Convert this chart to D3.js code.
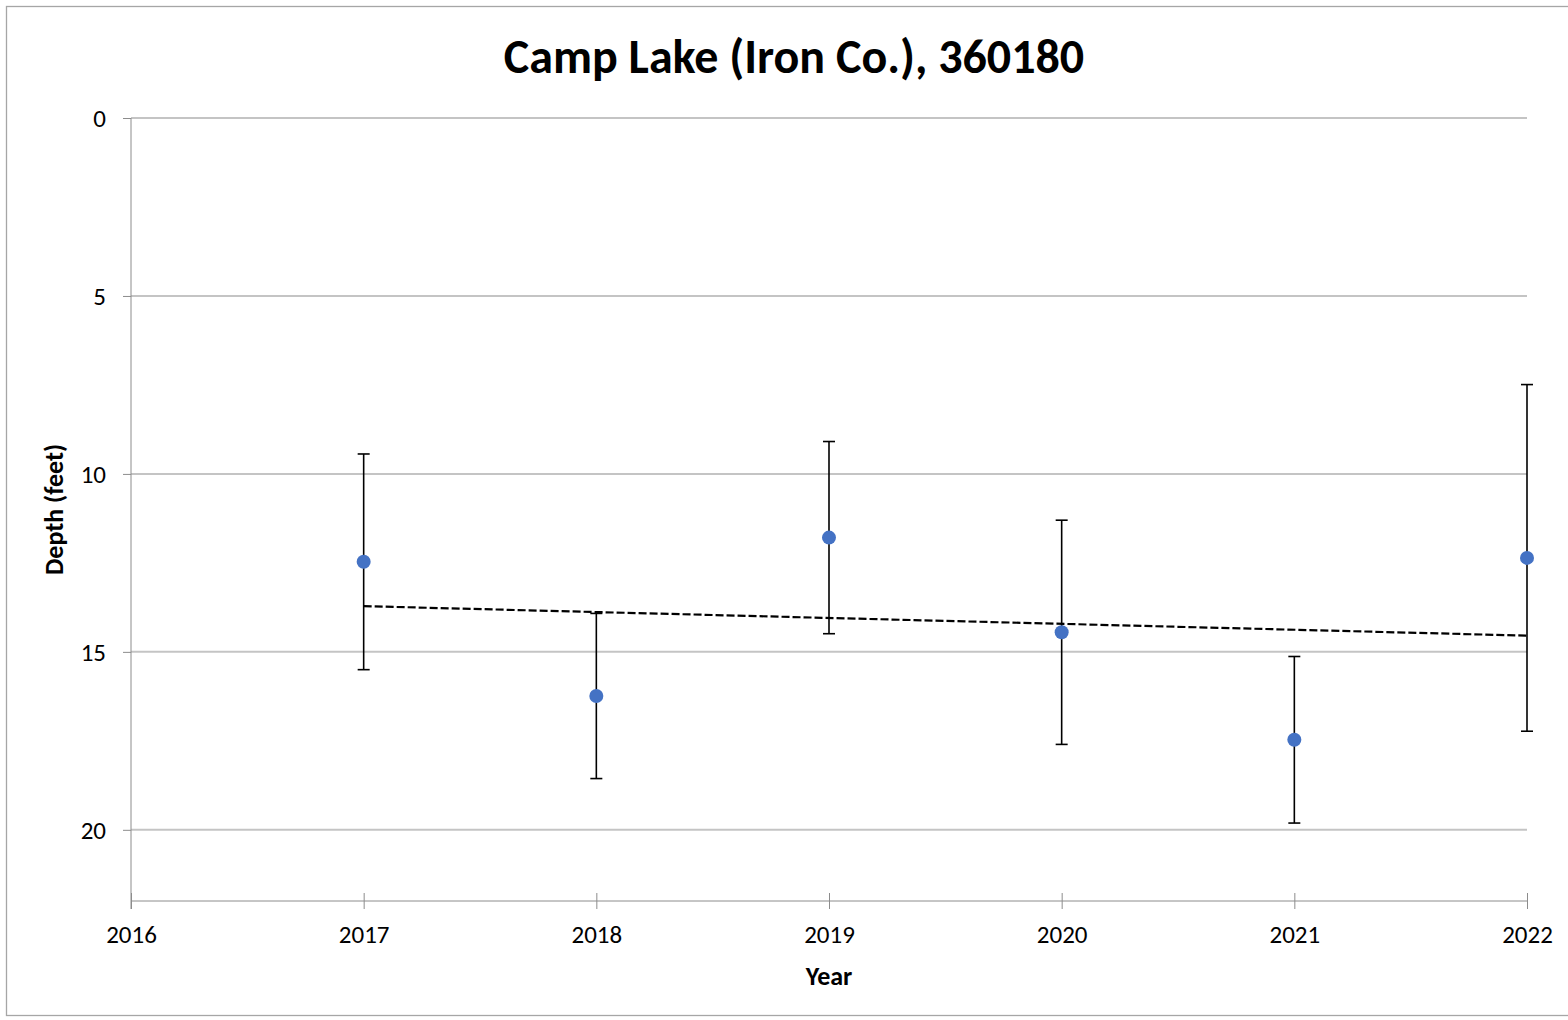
<!DOCTYPE html>
<html>
<head>
<meta charset="utf-8">
<script src="https://cdn.jsdelivr.net/npm/d3@7"></script>
<style>
  body { margin: 0; background: #fff; }
  text { font-family: Carlito, Calibri, Lato, "Open Sans", sans-serif; fill: #000; }
</style>
</head>
<body>
<svg id="chart" width="1568" height="1020"></svg>
<script>
// data
const years = [2017, 2018, 2019, 2020, 2021, 2022];
const depthMean = [12.47, 16.24, 11.79, 14.45, 17.47, 12.36];
const depthErr = [3.03, 2.32, 2.70, 3.15, 2.34, 4.87];
const xTicks = [2016, 2017, 2018, 2019, 2020, 2021, 2022];
const yTicks = [0, 5, 10, 15, 20];

const svg = d3.select("#chart");
const margin = {left: 131, right: 41, top: 118, bottom: 119};
const W = 1568, H = 1020;

// outer chart border
svg.append("rect")
   .attr("x", 6.5).attr("y", 6.5)
   .attr("width", W + 10).attr("height", H - 3 - 6.5 - 1.5)
   .attr("fill", "none").attr("stroke", "#a6a6a6").attr("stroke-width", 1.3);

const x = d3.scaleLinear().domain([2016, 2022]).range([margin.left, W - margin.right]);
const y = d3.scaleLinear().domain([0, 22]).range([margin.top, H - margin.bottom]);

// gridlines
svg.append("g")
   .selectAll("line")
   .data(yTicks)
   .enter()
   .append("line")
   .attr("x1", x(2016)).attr("x2", x(2022))
   .attr("y1", d => y(d)).attr("y2", d => y(d))
   .attr("stroke", "#c4c4c4").attr("stroke-width", 2);

// y axis
const yAxis = svg.append("g")
   .attr("transform", `translate(${x(2016)},0)`)
   .call(d3.axisLeft(y).tickValues(yTicks).tickSize(8).tickPadding(17));
yAxis.select(".domain").attr("stroke", "#8c8c8c").attr("d", `M0,${y(0)}V${y(22) + 8}`);
yAxis.selectAll(".tick line").attr("stroke", "#8c8c8c");
yAxis.selectAll(".tick text").style("font-size", "25px").attr("dy", "0.34em");

// x axis
const xAxis = svg.append("g")
   .attr("transform", `translate(0,${y(22)})`)
   .call(d3.axisBottom(x).tickValues(xTicks).tickFormat(d3.format("d")).tickSize(8).tickPadding(16));
xAxis.select(".domain").attr("stroke", "#8c8c8c").attr("d", `M${x(2016)},0H${x(2022)}`);
xAxis.selectAll(".tick line").attr("stroke", "#8c8c8c").attr("y1", -8);
xAxis.selectAll(".tick text").style("font-size", "25px");

// trend line (least squares through the means)
const mx = d3.mean(years), my = d3.mean(depthMean);
const slope = d3.sum(years, (v, i) => (v - mx) * (depthMean[i] - my)) / d3.sum(years, v => (v - mx) ** 2);
const fit = v => my + slope * (v - mx);
svg.append("line")
   .attr("x1", x(years[0])).attr("y1", y(fit(years[0])))
   .attr("x2", x(years[years.length - 1])).attr("y2", y(fit(years[years.length - 1])))
   .attr("stroke", "#000").attr("stroke-width", 2.2)
   .attr("stroke-dasharray", "8,3");

// error bars
const bars = svg.append("g").selectAll("g")
   .data(years.map((v, i) => ({year: v, mean: depthMean[i], err: depthErr[i]})))
   .enter().append("g")
   .attr("stroke", "#000").attr("stroke-width", 1.6);

bars.append("line")
   .attr("x1", d => x(d.year)).attr("x2", d => x(d.year))
   .attr("y1", d => y(d.mean - d.err)).attr("y2", d => y(d.mean + d.err));
bars.append("line")
   .attr("x1", d => x(d.year) - 6).attr("x2", d => x(d.year) + 6)
   .attr("y1", d => y(d.mean - d.err)).attr("y2", d => y(d.mean - d.err));
bars.append("line")
   .attr("x1", d => x(d.year) - 6).attr("x2", d => x(d.year) + 6)
   .attr("y1", d => y(d.mean + d.err)).attr("y2", d => y(d.mean + d.err));

// points
svg.append("g").selectAll("circle")
   .data(years)
   .enter()
   .append("circle")
   .attr("cx", d => x(d))
   .attr("cy", (d, i) => y(depthMean[i]))
   .attr("r", 7)
   .attr("fill", "#4472c4");

// title and axis titles
svg.append("text")
   .attr("x", 794).attr("y", 73)
   .attr("text-anchor", "middle")
   .style("font-size", "48px").style("font-weight", "bold")
   .text("Camp Lake (Iron Co.), 360180");

svg.append("text")
   .attr("x", 829).attr("y", 985)
   .attr("text-anchor", "middle")
   .style("font-size", "26px").style("font-weight", "bold")
   .text("Year");

svg.append("text")
   .attr("transform", `translate(63,${(y(0) + y(22)) / 2}) rotate(-90)`)
   .attr("text-anchor", "middle")
   .style("font-size", "26px").style("font-weight", "bold")
   .text("Depth (feet)");
</script>
</body>
</html>
